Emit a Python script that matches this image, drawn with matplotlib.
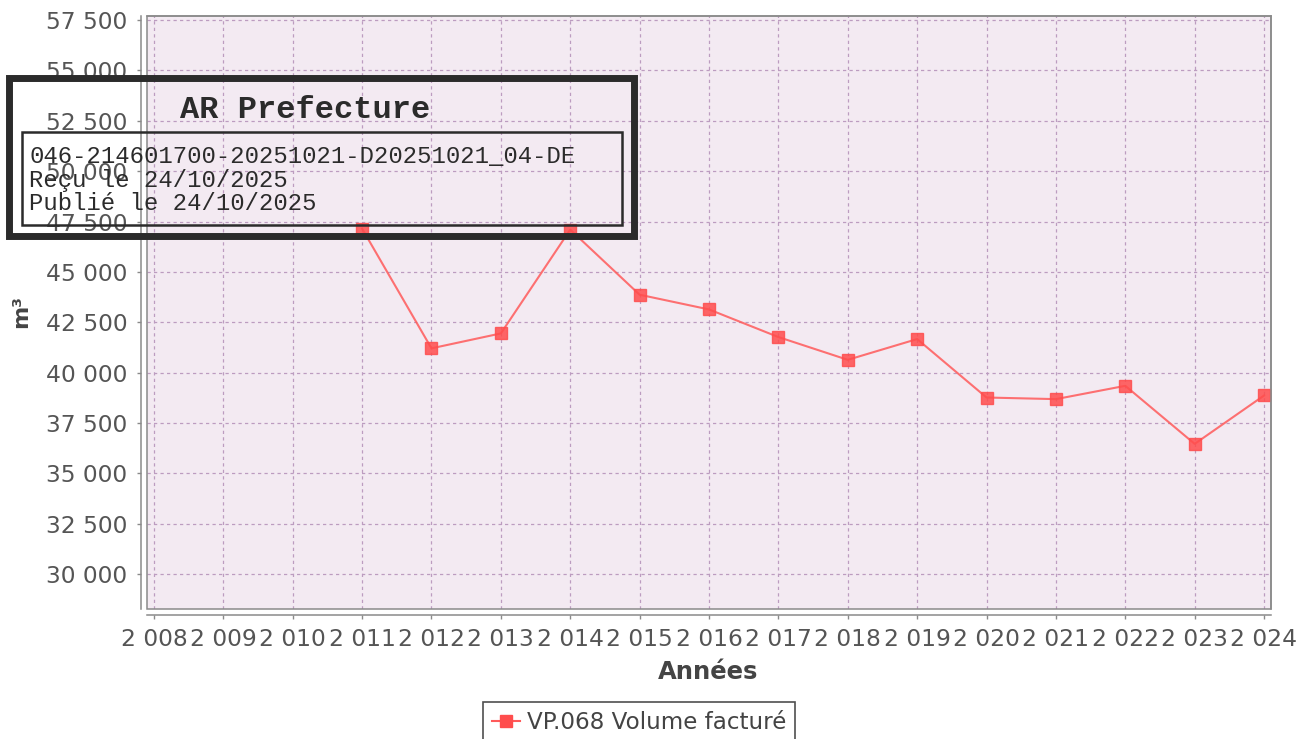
import matplotlib
matplotlib.use("Agg")
import matplotlib.pyplot as plt
from matplotlib.patches import Rectangle
from matplotlib.lines import Line2D
from matplotlib.ticker import FuncFormatter

# axis years and data (no values before 2011)
axis_years = list(range(2008, 2025))
data_years = [2011, 2012, 2013, 2014, 2015, 2016, 2017, 2018, 2019, 2020, 2021, 2022, 2023, 2024]
volumes = [47150, 41210, 41950, 47100, 43870, 43140, 41770, 40640, 41670, 38770, 38690, 39350, 36470, 38870]
y_ticks = list(range(30000, 57501, 2500))

series_label = "VP.068 Volume facturé"
stamp_title = "AR Prefecture"
stamp_lines = ["046-214601700-20251021-D20251021_04-DE",
               "Reçu le 24/10/2025",
               "Publié le 24/10/2025"]

W, H = 1311, 739


def fx(px):
    return px / W


def fy(py):
    return 1 - py / H


def fr_thousands(v, pos=None):
    return f"{int(v):,}".replace(",", " ")


fig = plt.figure(figsize=(W / 100, H / 100), dpi=100)
fig.patch.set_facecolor("white")

ax = fig.add_axes([fx(147), fy(609), (1271 - 147) / W, (609 - 16) / H])
ax.set_facecolor("#F3EAF2")

ax.plot(data_years, volumes, color="#FF5A5A", linewidth=1.5, alpha=0.85,
        marker="s", markersize=8.6, markerfacecolor="#FF4D4D",
        markeredgecolor="#FF4D4D", zorder=3)

ax.set_xlim(2007.9, 2024.1)
ax.set_ylim(28277, 57699)
ax.set_xticks(axis_years)
ax.set_xticklabels([fr_thousands(y) for y in axis_years])
ax.set_yticks(y_ticks)
ax.yaxis.set_major_formatter(FuncFormatter(fr_thousands))

ax.set_axisbelow(True)
ax.grid(True, color="#BC9CC0", linestyle=(0, (2.6, 2.6)), linewidth=0.9)

# offset axis lines like the original chart
for side in ["left", "bottom"]:
    ax.spines[side].set_position(("outward", 4.5))
    ax.spines[side].set_color("#8a8a8a")
    ax.spines[side].set_linewidth(1.1)
for side in ["top", "right"]:
    ax.spines[side].set_color("#8a8a8a")
    ax.spines[side].set_linewidth(1.1)
ax.add_patch(Rectangle((0, 0), 1, 1, transform=ax.transAxes, fill=False,
                       edgecolor="#8a8a8a", linewidth=1.1, clip_on=False, zorder=4))

ax.tick_params(axis="both", length=3, width=1, color="#8a8a8a",
               labelsize=16.8, labelcolor="#555555", pad=6.5)

fig.text(fx(708), fy(679), "Années", ha="center", va="baseline",
         fontsize=17.5, fontweight="bold", color="#444444")
fig.text(fx(21.5), fy(312), "m³", ha="center", va="center", rotation=90,
         fontsize=16, fontweight="bold", color="#444444")

handle = Line2D([], [], color="#FF5A5A", linewidth=1.5, marker="s",
                markersize=8.6, markerfacecolor="#FF4D4D", markeredgecolor="#FF4D4D")
leg = fig.legend([handle], [series_label], loc="upper left",
                 bbox_to_anchor=(fx(483), fy(702)), borderaxespad=0,
                 fontsize=16.6, labelcolor="#444444", frameon=True, fancybox=False,
                 borderpad=0.4, handlelength=1.2, handletextpad=0.3)
leg.get_frame().set_edgecolor("#222222")
leg.get_frame().set_linewidth(1.2)

# AR prefecture stamp over the chart
fig.patches.append(Rectangle((fx(8.5), fy(236.5)), (634 - 8.5) / W, (236.5 - 78.5) / H,
                             transform=fig.transFigure, fill=False,
                             edgecolor="#2b2b2b", linewidth=5.0, zorder=10))
fig.patches.append(Rectangle((fx(21.5), fy(224.5)), (621.5 - 21.5) / W, (224.5 - 131.5) / H,
                             transform=fig.transFigure, fill=False,
                             edgecolor="#2b2b2b", linewidth=1.8, zorder=10))
fig.text(fx(305), fy(118), stamp_title, ha="center", va="baseline",
         family="Liberation Mono", fontweight="bold", fontsize=23,
         color="#2b2b2b", zorder=11)
for i, line in enumerate(stamp_lines):
    fig.text(fx(29), fy(162.7 + 23.8 * i), line, ha="left", va="baseline",
             family="Liberation Mono", fontsize=17.2, color="#2b2b2b", zorder=11)

fig.savefig("out.png", dpi=100)
